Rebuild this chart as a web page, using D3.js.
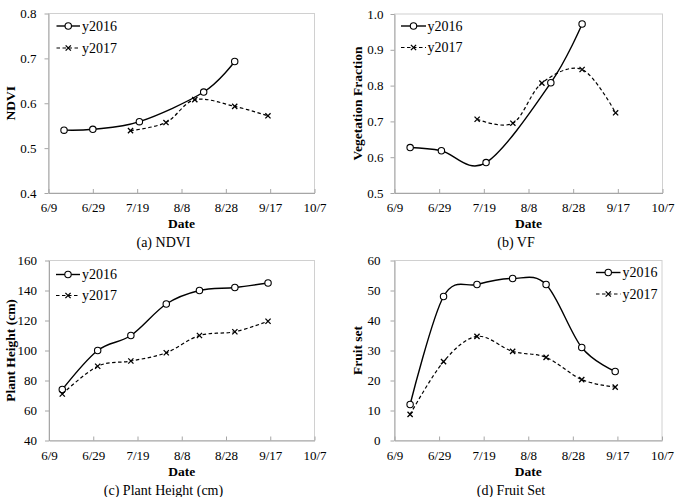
<!DOCTYPE html>
<html>
<head>
<meta charset="utf-8">
<script src="https://cdn.jsdelivr.net/npm/d3@7"></script>
<style>
    body { margin: 0; background: #fff; }
    svg text { font-family: "Liberation Serif", "Times New Roman", serif; fill: #000; }
</style>
</head>
<body>
<svg id="fig" width="679" height="497"></svg>
<script>
/**
 * Data.
 */
var dateTicks = ["6/9", "6/29", "7/19", "8/8", "8/28", "9/17", "10/7"];
var seriesNames = ["y2016", "y2017"];

var ndviDates2016 = ["6/16", "6/29", "7/20", "8/18", "9/1"];
var ndvi2016 = [0.540, 0.542, 0.559, 0.625, 0.693];
var ndviDates2017 = ["7/16", "8/1", "8/14", "9/1", "9/16"];
var ndvi2017 = [0.539, 0.557, 0.608, 0.593, 0.572];
var ndviTicks = [0.4, 0.5, 0.6, 0.7, 0.8];

var vfDates2016 = ["6/16", "6/30", "7/20", "8/18", "9/1"];
var vf2016 = [0.627, 0.618, 0.585, 0.808, 0.972];
var vfDates2017 = ["7/16", "8/1", "8/14", "9/1", "9/16"];
var vf2017 = [0.706, 0.695, 0.807, 0.845, 0.724];
var vfTicks = [0.5, 0.6, 0.7, 0.8, 0.9, 1.0];

var heightDates = ["6/15", "7/1", "7/16", "8/1", "8/16", "9/1", "9/16"];
var height2016 = [74, 100, 110, 131, 140, 142, 145];
var height2017 = [71, 89.5, 93, 98.5, 110, 112.5, 119.5];
var heightTicks = [40, 60, 80, 100, 120, 140, 160];

var fruitDates = ["6/16", "7/1", "7/16", "8/1", "8/16", "9/1", "9/16"];
var fruit2016 = [12, 48, 52, 54, 52, 31, 23];
var fruit2017 = [8.7, 26.3, 34.7, 29.7, 27.7, 20.3, 17.8];
var fruitTicks = [0, 10, 20, 30, 40, 50, 60];

var parseDate = d3.timeParse("%m/%d");
var fmtDate = d3.timeFormat("%-m/%-d");

var svg = d3.select("#fig");

var panels = [
    {
        box: { left: 48.5, right: 314.5, top: 13.5, bottom: 193 },
        yTitle: "NDVI", yTitleX: 10, caption: "(a) NDVI", captionX: 163.5, tickFmt: ".1f", yPad: 8,
        yTicks: ndviTicks, lines: [[ndviDates2016, ndvi2016], [ndviDates2017, ndvi2017]],
        legend: { x1: 56.5, x2: 80, text: 82, y: [26, 48] }
    },
    {
        box: { left: 394.5, right: 662.5, top: 14, bottom: 193 },
        yTitle: "Vegetation Fraction", yTitleX: 357, caption: "(b) VF", captionX: 516, tickFmt: ".1f", yPad: 7,
        yTicks: vfTicks, lines: [[vfDates2016, vf2016], [vfDates2017, vf2017]],
        legend: { x1: 401, x2: 426, text: 427.5, y: [26, 47.5] }
    },
    {
        box: { left: 49, right: 314.5, top: 260.5, bottom: 440.5 },
        yTitle: "Plant Height (cm)", yTitleX: 10, caption: "(c) Plant Height (cm)", captionX: 163.5, tickFmt: "d", yPad: 8,
        yTicks: heightTicks, lines: [[heightDates, height2016], [heightDates, height2017]],
        legend: { x1: 56, x2: 80, text: 82, y: [274.5, 295.5] }
    },
    {
        box: { left: 394.5, right: 662, top: 260.5, bottom: 440.5 },
        yTitle: "Fruit set", yTitleX: 357, caption: "(d) Fruit Set", captionX: 511, tickFmt: "d", yPad: 10,
        yTicks: fruitTicks, lines: [[fruitDates, fruit2016], [fruitDates, fruit2017]],
        legend: { x1: 596, x2: 620.5, text: 622.5, y: [272.5, 294] }
    }
];

var axisColor = "#a6a6a6";

function drawMarker(g, i, cx, cy) {
    if (i === 0) {
        g.append("circle")
            .attr("cx", cx).attr("cy", cy).attr("r", 3.2)
            .attr("fill", "#fff")
            .attr("stroke", "#000")
            .attr("stroke-width", 1.1);
    } else {
        var s = 2.6;
        g.append("path")
            .attr("d", `M${cx - s},${cy - s}L${cx + s},${cy + s}M${cx - s},${cy + s}L${cx + s},${cy - s}`)
            .attr("stroke", "#000")
            .attr("stroke-width", 1.3);
    }
}

panels.forEach(function (p) {
    var b = p.box;
    var g = svg.append("g");

    var x = d3.scaleTime()
        .domain([parseDate(dateTicks[0]), parseDate(dateTicks[dateTicks.length - 1])])
        .range([b.left, b.right]);

    var y = d3.scaleLinear()
        .domain(d3.extent(p.yTicks))
        .range([b.bottom, b.top]);

    // plot area border
    g.append("rect")
        .attr("x", b.left).attr("y", b.top)
        .attr("width", b.right - b.left).attr("height", b.bottom - b.top)
        .attr("fill", "none")
        .attr("stroke", "#d0d0d0")
        .attr("stroke-width", 1);

    var xAxis = g.append("g")
        .attr("transform", `translate(0,${b.bottom})`)
        .call(d3.axisBottom(x)
            .tickValues(dateTicks.map(parseDate))
            .tickFormat(fmtDate)
            .tickSizeInner(-4)
            .tickSizeOuter(0)
            .tickPadding(10));
    xAxis.selectAll(".domain, line").attr("stroke", axisColor);
    xAxis.selectAll("text").style("font-size", "13px").attr("font-family", null);

    var yAxis = g.append("g")
        .attr("transform", `translate(${b.left},0)`)
        .call(d3.axisLeft(y)
            .tickValues(p.yTicks)
            .tickFormat(d3.format(p.tickFmt))
            .tickSizeInner(4)
            .tickSizeOuter(0)
            .tickPadding(p.yPad));
    yAxis.selectAll(".domain, line").attr("stroke", axisColor);
    yAxis.selectAll("text").style("font-size", "13px").attr("font-family", null);

    // titles
    g.append("text")
        .attr("x", (b.left + b.right) / 2)
        .attr("y", b.bottom + 35)
        .attr("text-anchor", "middle")
        .style("font-size", "13.5px")
        .style("font-weight", "bold")
        .text("Date");

    g.append("text")
        .attr("transform", `translate(${p.yTitleX},${(b.top + b.bottom) / 2}) rotate(-90)`)
        .attr("text-anchor", "middle")
        .attr("dy", "0.35em")
        .style("font-size", "13.5px")
        .style("font-weight", "bold")
        .text(p.yTitle);

    g.append("text")
        .attr("x", p.captionX)
        .attr("y", b.bottom + 54)
        .attr("text-anchor", "middle")
        .style("font-size", "14px")
        .text(p.caption);

    // series
    var line = d3.line()
        .x(d => x(parseDate(d[0])))
        .y(d => y(d[1]))
        .curve(d3.curveCardinal.tension(0));

    p.lines.forEach(function (s, i) {
        var pts = s[0].map((d, k) => [d, s[1][k]]);
        g.append("path")
            .datum(pts)
            .attr("d", line)
            .attr("fill", "none")
            .attr("stroke", "#000")
            .attr("stroke-width", i === 0 ? 1.4 : 1.2)
            .attr("stroke-dasharray", i === 0 ? null : "3.5,2.5");
        pts.forEach(function (d) {
            drawMarker(g, i, x(parseDate(d[0])), y(d[1]));
        });
    });

    // legend
    var L = p.legend;
    seriesNames.forEach(function (name, i) {
        g.append("line")
            .attr("x1", L.x1).attr("x2", L.x2)
            .attr("y1", L.y[i]).attr("y2", L.y[i])
            .attr("stroke", "#000")
            .attr("stroke-width", i === 0 ? 1.4 : 1.2)
            .attr("stroke-dasharray", i === 0 ? null : "3.5,2.5");
        drawMarker(g, i, (L.x1 + L.x2) / 2, L.y[i]);
        g.append("text")
            .attr("x", L.text)
            .attr("y", L.y[i])
            .attr("dy", "0.35em")
            .style("font-size", "14px")
            .text(name);
    });
});
</script>
</body>
</html>
